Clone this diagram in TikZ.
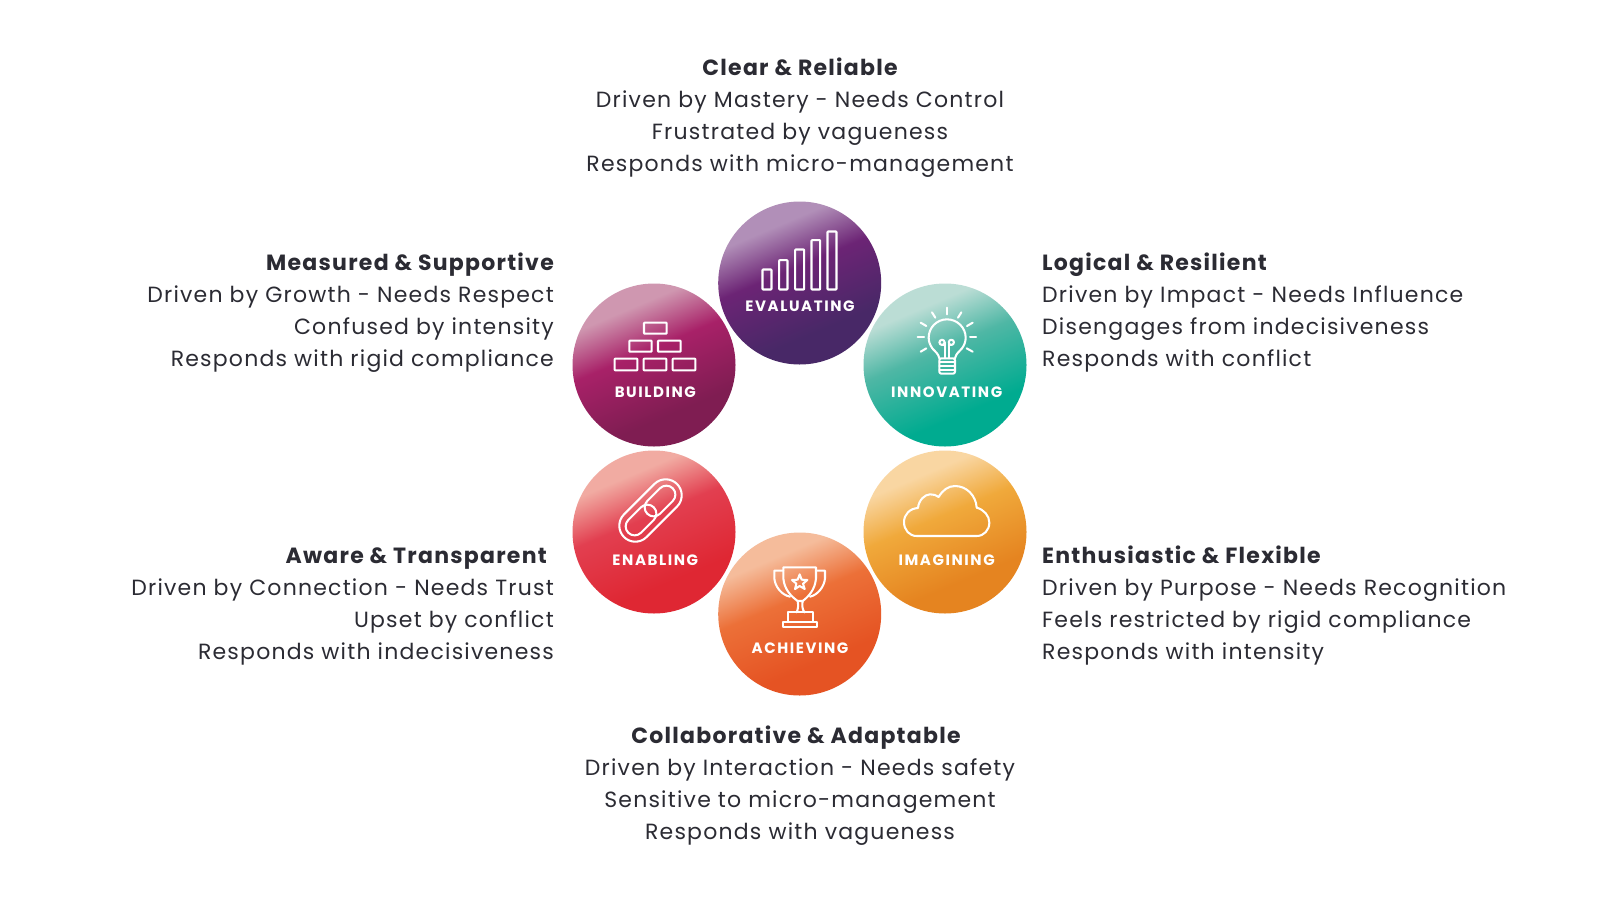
\documentclass[tikz,border=0pt]{standalone}
\usepackage{fontspec}
\setmainfont{Poppins}
\newfontfamily\bodyf[LetterSpace=5.5]{Poppins}
\newfontfamily\headf[LetterSpace=5.7]{Poppins}
\newfontfamily\labf[LetterSpace=10.5]{Poppins}
\definecolor{ink}{HTML}{2B2B33}
\definecolor{eA}{HTML}{B18FB8}\definecolor{eB}{HTML}{6C2475}\definecolor{eC}{HTML}{482867}
\definecolor{bA}{HTML}{CF97B0}\definecolor{bB}{HTML}{A82168}\definecolor{bC}{HTML}{7F1D52}
\definecolor{iA}{HTML}{BBDDD5}\definecolor{iB}{HTML}{4FB7A5}\definecolor{iC}{HTML}{00AB90}
\definecolor{mA}{HTML}{F9D6A2}\definecolor{mB}{HTML}{F0A93B}\definecolor{mC}{HTML}{E58420}
\definecolor{aA}{HTML}{F5BC9B}\definecolor{aB}{HTML}{EC7038}\definecolor{aC}{HTML}{E55323}
\definecolor{nA}{HTML}{F1ABA2}\definecolor{nB}{HTML}{E23F50}\definecolor{nC}{HTML}{DF2733}
\newcommand\mkshade[4]{\pgfdeclareverticalshading{#1}{100bp}{color(0bp)=(#4); color(34bp)=(#4); color(55bp)=(#3); color(69bp)=(#2); color(100bp)=(#2)}}
\mkshade{shE}{eA}{eB}{eC}
\mkshade{shB}{bA}{bB}{bC}
\mkshade{shI}{iA}{iB}{iC}
\mkshade{shM}{mA}{mB}{mC}
\mkshade{shA}{aA}{aB}{aC}
\mkshade{shN}{nA}{nB}{nC}
\tikzset{
  ball/.style={circle,inner sep=0pt,minimum size=163pt,shade,shading=#1,shading angle=23},
  clabel/.style={anchor=base,inner sep=0pt,text=white,font=\labf\fontsize{15pt}{17pt}\selectfont\bfseries},
  head/.style={inner sep=0pt,text=ink,font=\headf\fontsize{22pt}{26pt}\selectfont\bfseries},
  body/.style={inner sep=0pt,text=ink,font=\bodyf\fontsize{22pt}{26pt}\selectfont},
  icon/.style={draw=white,line width=2.05pt,line join=round,line cap=round},
  zoomed/.style 2 args={shift={(#1,#2)},x=0.33333pt,y=-0.33333pt},
}
\begin{document}
\begin{tikzpicture}[x=1pt,y=-1pt]
\useasboundingbox[fill=white] (0,0) rectangle (1600,900);
% circles
\node[ball=shE] (evaluating) at (799.7,283) {};
\node[ball=shB] (building) at (654,365) {};
\node[ball=shI] (innovating) at (945,365) {};
\node[ball=shN] (enabling) at (654,532) {};
\node[ball=shM] (imagining) at (945,532) {};
\node[ball=shA] (achieving) at (799.7,614) {};
% labels
\node[clabel] (lE) at (800,311) {EVALUATING};
\node[clabel] (lB) at (655.3,397.4) {BUILDING};
\node[clabel] (lI) at (946.7,397.4) {INNOVATING};
\node[clabel] (lN) at (655.3,565) {ENABLING};
\node[clabel] (lM) at (946.7,565) {IMAGINING};
\node[clabel] (lA) at (800,653) {ACHIEVING};
% bars
\begin{scope}[zoomed={560}{190}]
\foreach \a/\b/\t in {607.5/634.5/238.5,657.5/682.5/210.5,705.5/732.5/178.5,754.5/780.5/150.5,802.5/829.5/124.5}
  \draw[icon,rounded corners=0.6pt] (\a,298.5) rectangle (\b,\t);
% bricks
\foreach \a/\b/\t/\u in {252/320/398/431,208/275/452/485,294/362/452/485,164/232/506/541,251/319/506/541,338/406/506/541}
  \draw[icon,rounded corners=0.6pt] (\a,\t) rectangle (\b,\u);
\end{scope}
% bulb
\begin{scope}[zoomed={900}{295}]
\draw[icon] (118,190) .. controls (115,175) and (105,170) .. (97,160) .. controls (90,150) and (86,140) .. (86,128) .. controls (86,98) and (110,73) .. (141,73) .. controls (172,73) and (197,98) .. (197,128) .. controls (197,140) and (193,150) .. (186,160) .. controls (178,170) and (168,175) .. (165,190);
\draw[icon,rounded corners=2pt] (118,190) rectangle (165,236);
\foreach \y in {202,214,226} \draw[icon] (118,\y) -- (165,\y);
\draw[icon] (134,190) -- (134,143);
\draw[icon] (147,190) -- (147,143);
\draw[icon] (134,150) -- (126,150);
\draw[icon] (147,150) -- (155,150);
\draw[icon] (126,142) circle (2.6pt);
\draw[icon] (154,142) circle (2.6pt);
\draw[icon] (140,38) -- (140,58);
\draw[icon] (96,52) -- (106,68);
\draw[icon] (184,52) -- (174,68);
\draw[icon] (62,83) -- (79,93);
\draw[icon] (218,83) -- (201,93);
\draw[icon] (53,127) -- (72,127);
\draw[icon] (228,127) -- (210,127);
\draw[icon] (62,170) -- (79,160);
\draw[icon] (218,170) -- (200,160);
\end{scope}
% link
\draw[icon,shift={(650.5,510.5)},rotate=45,rounded corners=16pt] (-37.5,-16) rectangle (37.5,16);
\draw[icon,shift={(660,501)},rotate=45,rounded corners=9pt] (-18,-9) rectangle (18,9);
\draw[icon,shift={(641,520)},rotate=45,rounded corners=9pt] (-18,-9) rectangle (18,9);
% trophy
\begin{scope}[zoomed={755}{555}]
\draw[icon] (85,37) -- (183,37) -- (183,70) .. controls (180,105) and (160,125) .. (143,138) -- (128,138) .. controls (110,125) and (88,105) .. (85,70) -- cycle;
\draw[icon] (128,138) .. controls (130,150) and (130,160) .. (125,172);
\draw[icon] (143,138) .. controls (141,150) and (141,160) .. (148,172);
\draw[icon] (98,172) rectangle (173,202);
\draw[icon] (83,202) rectangle (187,215);
\draw[icon] (85,47) -- (58,47) -- (58,70) .. controls (60,95) and (80,120) .. (105,125);
\draw[icon] (183,47) -- (210,47) -- (210,70) .. controls (208,95) and (188,120) .. (165,125);
\draw[icon] (134,58) -- (140,74) -- (157,75) -- (144,86) -- (149,102) -- (134,93) -- (120,102) -- (124,86) -- (111,75) -- (128,74) -- cycle;
\end{scope}
% cloud
\begin{scope}[zoomed={890}{475}]
\draw[icon] (80,183) .. controls (58,183) and (42,165) .. (42,141) .. controls (42,118) and (60,100) .. (84,99) .. controls (86,75) and (105,58) .. (120,58) .. controls (130,58) and (140,60) .. (146,66) .. controls (158,45) and (175,33) .. (195,33) .. controls (230,33) and (258,62) .. (260,98) .. controls (282,104) and (298,122) .. (298,143) .. controls (298,165) and (282,183) .. (260,183) -- cycle;
\end{scope}
% top block
\node[head,anchor=base] (t0) at (800,75) {Clear \& Reliable};
\node[body,anchor=base] (t1) at (800,107) {Driven by Mastery - Needs Control};
\node[body,anchor=base] (t2) at (800,139) {Frustrated by vagueness};
\node[body,anchor=base] (t3) at (800,171) {Responds with micro-management};
% upper left
\node[head,anchor=base east] (ul0) at (554,270) {Measured \& Supportive};
\node[body,anchor=base east] (ul1) at (554,302) {Driven by Growth - Needs Respect};
\node[body,anchor=base east] (ul2) at (554,334) {Confused by intensity};
\node[body,anchor=base east] (ul3) at (554,366) {Responds with rigid compliance};
% upper right
\node[head,anchor=base west] (ur0) at (1042,270) {Logical \& Resilient};
\node[body,anchor=base west] (ur1) at (1042,302) {Driven by Impact - Needs Influence};
\node[body,anchor=base west] (ur2) at (1042,334) {Disengages from indecisiveness};
\node[body,anchor=base west] (ur3) at (1042,366) {Responds with conflict};
% lower left
\node[head,anchor=base east] (ll0) at (547,563) {Aware \& Transparent};
\node[body,anchor=base east] (ll1) at (554,595) {Driven by Connection - Needs Trust};
\node[body,anchor=base east] (ll2) at (554,627) {Upset by conflict};
\node[body,anchor=base east] (ll3) at (554,659) {Responds with indecisiveness};
% lower right
\node[head,anchor=base west] (lr0) at (1042,563) {Enthusiastic \& Flexible};
\node[body,anchor=base west] (lr1) at (1042,595) {Driven by Purpose - Needs Recognition};
\node[body,anchor=base west] (lr2) at (1042,627) {Feels restricted by rigid compliance};
\node[body,anchor=base west] (lr3) at (1042,659) {Responds with intensity};
% bottom block
\node[head,anchor=base] (b0) at (796,743.5) {Collaborative \& Adaptable};
\node[body,anchor=base] (b1) at (800,775.5) {Driven by Interaction - Needs safety};
\node[body,anchor=base] (b2) at (800,807.5) {Sensitive to micro-management};
\node[body,anchor=base] (b3) at (800,839.5) {Responds with vagueness};
\end{tikzpicture}
\end{document}
